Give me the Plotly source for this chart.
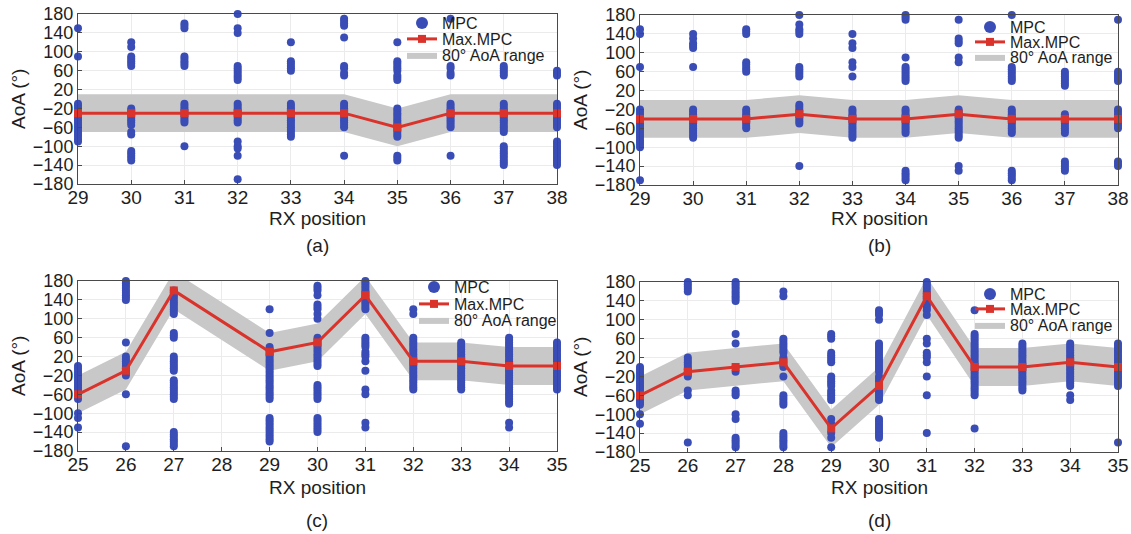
import plotly.graph_objects as go

# ---------------- data ----------------
A_TICKS = [29, 30, 31, 32, 33, 34, 35, 36, 37, 38]
A_POS = [29, 30, 31, 32, 33, 34, 35, 36, 37, 38]
A_MAX = [-30, -30, -30, -30, -30, -30, -60, -30, -30, -30]
A_MPC = [
    [150, 90, -10, -15, -20, -25, -30, -35, -40, -45, -50, -55, -60, -65, -70, -75, -80, -85, -90],
    [120, 110, 90, 85, 80, 75, 70, -20, -25, -30, -35, -40, -45, -50, -55, -70, -75, -110, -115, -120, -125, -130],
    [160, 155, 150, 90, 85, 80, 75, 70, -10, -15, -20, -25, -30, -35, -40, -45, -50, -100],
    [180, 150, 140, 70, 65, 60, 55, 50, 45, 40, -10, -15, -20, -25, -30, -35, -40, -45, -50, -90, -100, -105, -120, -170],
    [120, 80, 75, 70, 65, 60, -10, -15, -20, -25, -30, -35, -40, -45, -50, -55, -60, -65, -70, -75, -80],
    [170, 165, 160, 155, 130, 70, 65, 55, 50, -10, -15, -20, -25, -30, -35, -40, -45, -50, -55, -60, -120],
    [120, 80, 75, 70, 65, 60, 50, 45, 40, -20, -25, -30, -35, -40, -45, -50, -55, -60, -65, -70, -75, -80, -120, -125, -130],
    [170, 70, 65, 55, 50, -10, -15, -20, -25, -30, -35, -40, -45, -50, -55, -60, -120],
    [70, 65, 60, 55, 50, -10, -15, -20, -25, -30, -35, -40, -45, -50, -55, -60, -65, -70, -100, -105, -110, -115, -120, -125, -130, -135, -140],
    [60, 55, 50, -10, -15, -20, -25, -30, -35, -40, -45, -50, -55, -60, -90, -95, -100, -105, -110, -115, -120, -125, -130, -135, -140],
]

B_TICKS = [29, 30, 31, 32, 33, 34, 35, 36, 37, 38]
B_POS = [29, 30, 31, 32, 33, 34, 35, 36, 37, 38]
B_MAX = [-40, -40, -40, -30, -40, -40, -30, -40, -40, -40]
B_MPC = [
    [150, 140, 70, -20, -25, -30, -35, -40, -45, -50, -55, -60, -65, -70, -75, -80, -85, -90, -95, -100, -170],
    [140, 130, 120, 115, 110, 70, -20, -25, -30, -35, -40, -45, -50, -55, -60, -65, -70, -75, -80],
    [150, 145, 140, 80, 75, 70, 65, 60, -20, -25, -30, -35, -40, -45, -50, -55, -60],
    [180, 160, 150, 145, 140, 70, 65, 60, 55, 50, -10, -15, -20, -25, -30, -35, -40, -45, -50, -140],
    [140, 120, 110, 80, 70, 50, -20, -25, -30, -35, -40, -45, -50, -55, -60, -65, -70, -75, -80],
    [180, 175, 170, 90, 70, 65, 60, 55, 50, 45, 40, -20, -25, -30, -35, -40, -45, -50, -55, -60, -65, -70, -150, -155, -160, -165, -170],
    [170, 130, 125, 120, 90, 80, -20, -25, -30, -35, -40, -45, -50, -55, -60, -65, -70, -75, -80, -140, -150],
    [180, 70, 65, 60, 55, 50, 45, 40, -20, -25, -30, -35, -40, -45, -50, -55, -60, -65, -70, -150, -155, -160, -165, -170],
    [60, 55, 50, 45, 40, 35, 30, -30, -35, -40, -45, -50, -55, -60, -65, -70, -130, -135, -140, -145, -150],
    [170, 60, 55, 50, 45, 40, -20, -25, -30, -35, -40, -45, -50, -55, -60, -130, -135, -140],
]

C_TICKS = [25, 26, 27, 28, 29, 30, 31, 32, 33, 34, 35]
C_POS = [25, 26, 27, 29, 30, 31, 32, 33, 34, 35]
C_MAX = [-60, -10, 160, 30, 50, 150, 10, 10, 0, 0]
C_MPC = [
    [0, -5, -10, -15, -20, -25, -30, -35, -40, -45, -50, -55, -60, -65, -70, -100, -110, -130],
    [180, 175, 170, 165, 160, 155, 150, 145, 140, 50, 20, 15, 10, 5, 0, -5, -10, -15, -20, -60, -170],
    [160, 155, 150, 145, 140, 135, 130, 125, 120, 115, 110, 70, 65, 60, 20, 15, 10, 5, 0, -5, -10,
     -30, -35, -40, -45, -50, -55, -60, -65, -70, -140, -145, -150, -155, -160, -165, -170],
    [120, 70, 40, 35, 30, 25, 20, 15, 10, 5, 0, -5, -10, -15, -20, -25, -30, -35, -40, -45, -50, -55, -60, -65, -70,
     -110, -115, -120, -125, -130, -135, -140, -145, -150, -155, -160],
    [170, 165, 160, 150, 130, 125, 120, 110, 100, 60, 55, 50, 45, 40, 35, 30, 25, 20, 15, 10, 5, 0,
     -40, -45, -50, -55, -60, -65, -70, -110, -115, -120, -125, -130, -135, -140],
    [180, 175, 170, 165, 160, 155, 150, 145, 140, 135, 130, 125, 120, 60, 55, 50, 45, 40, 30, 25, 20, 10,
     -10, -50, -60, -120, -130],
    [120, 110, 60, 55, 50, 45, 40, 35, 30, 25, 20, 15, 10, 5, 0, -5, -10, -15, -20, -25, -30, -35, -40, -45, -50],
    [50, 45, 40, 35, 30, 25, 20, 15, 10, 5, 0, -5, -10, -15, -20, -25, -30, -35, -40, -45, -50],
    [60, 55, 50, 45, 40, 35, 30, 25, 20, 15, 10, 5, 0, -5, -10, -15, -20, -25, -30, -35, -40, -45, -50,
     -55, -60, -65, -70, -75, -80, -120, -130],
    [50, 45, 40, 35, 30, 25, 20, 15, 10, 5, 0, -5, -10, -15, -20, -25, -30, -35, -40, -45, -50],
]

D_TICKS = [25, 26, 27, 28, 29, 30, 31, 32, 33, 34, 35]
D_POS = [25, 26, 27, 28, 29, 30, 31, 32, 33, 34, 35]
D_MAX = [-60, -10, 0, 10, -130, -40, 150, 0, 0, 10, 0]
D_MPC = [
    [0, -5, -10, -15, -20, -25, -30, -35, -40, -45, -50, -55, -60, -65, -70, -75, -80, -100, -120],
    [180, 175, 170, 165, 160, 20, 15, 10, 5, 0, -5, -10, -15, -20, -50, -60, -160],
    [180, 175, 170, 165, 160, 155, 150, 145, 140, 70, 50, 0, -10, -50, -55, -60, -100, -110,
     -150, -155, -160, -165, -170],
    [160, 150, 60, 55, 50, 45, 40, 35, 30, 20, 15, 10, 5, 0, -20, -60, -65, -70, -75, -80,
     -140, -145, -150, -155, -160, -165, -170],
    [70, 65, 60, 30, 25, 20, 15, 10, -20, -25, -30, -35, -40, -50, -55, -60, -65, -70,
     -110, -120, -140, -150, -170],
    [120, 115, 110, 100, 50, 45, 40, 35, 30, 25, 20, 15, 10, 5, 0, -5, -10,
     -20, -25, -30, -35, -40, -45, -50, -55, -60, -65, -70, -110, -115, -120, -125, -130, -135, -140, -145, -150],
    [180, 175, 170, 165, 160, 155, 150, 145, 140, 135, 130, 125, 120, 110, 60, 50, 30, 25, 20, 10,
     -20, -60, -140],
    [120, 70, 65, 60, 55, 50, 45, 40, 35, 30, 25, 20, 15, 10, 5, 0, -5, -10, -15, -20, -25, -30,
     -35, -40, -45, -50, -55, -60, -130],
    [50, 45, 40, 35, 30, 25, 20, 15, 10, 5, 0, -5, -10, -15, -20, -25, -30, -35, -40, -45, -50],
    [50, 45, 40, 35, 30, 25, 20, 15, 10, 5, 0, -5, -10, -15, -20, -25, -30, -35, -40, -60, -70],
    [50, 45, 40, 35, 30, 25, 20, 15, 10, 5, 0, -5, -10, -15, -20, -25, -30, -35, -40, -160],
]

Y_TICKS = [-180, -140, -100, -60, -20, 20, 60, 100, 140, 180]
BAND_HALF = 40
NAMES = ["MPC", "Max.MPC", "80° AoA range"]
PANEL_LABELS = ["(a)", "(b)", "(c)", "(d)"]
X_TITLE = "RX position"
Y_TITLE = "AoA (°)"

# ---------------- style / layout ----------------
W, H = 1131, 534
FONT = "Liberation Sans, Arial, Helvetica, sans-serif"
TXT = "#1e1e1e"
BLUE = "#3a4db6"
RED = "#d9332b"
GRAY = "#c8c8c8"

panels = [
    dict(pos=A_POS, mx=A_MAX, mpc=A_MPC, ticks=A_TICKS, xpx=(78, 557), ypx=(14, 184),
         leg_left=402, leg_y=(23, 39, 55), ylab_x=18, label_y=245, xtitle_y=218),
    dict(pos=B_POS, mx=B_MAX, mpc=B_MPC, ticks=B_TICKS, xpx=(640, 1118), ypx=(15, 185),
         leg_left=970, leg_y=(27, 42, 57), ylab_x=580, label_y=245, xtitle_y=218),
    dict(pos=C_POS, mx=C_MAX, mpc=C_MPC, ticks=C_TICKS, xpx=(78, 557), ypx=(281, 451),
         leg_left=414, leg_y=(287, 304, 320), ylab_x=18, label_y=520, xtitle_y=487),
    dict(pos=D_POS, mx=D_MAX, mpc=D_MPC, ticks=D_TICKS, xpx=(640, 1118), ypx=(282, 452),
         leg_left=970, leg_y=(294, 309, 325), ylab_x=580, label_y=520, xtitle_y=487),
]

fig = go.Figure()
layout = dict(width=W, height=H, margin=dict(l=0, r=0, t=0, b=0, autoexpand=False),
              paper_bgcolor="white", plot_bgcolor="white", showlegend=True,
              font=dict(family=FONT, color=TXT), annotations=[])

for i, p in enumerate(panels):
    n = i + 1
    xa = "x" if n == 1 else f"x{n}"
    ya = "y" if n == 1 else f"y{n}"
    legs = []
    for j in range(3):
        k = i * 3 + j + 1
        legs.append("legend" if k == 1 else f"legend{k}")

    # band (+-40 deg around the strongest MPC)
    upper = [m + BAND_HALF for m in p["mx"]]
    lower = [m - BAND_HALF for m in p["mx"]]
    bx = list(p["pos"]) + list(reversed(p["pos"]))
    by = upper + list(reversed(lower))
    # MPC points
    px, py = [], []
    for xv, vals in zip(p["pos"], p["mpc"]):
        for v in vals:
            px.append(xv)
            py.append(v)

    fig.add_trace(go.Scatter(x=bx, y=by, mode="lines", fill="toself", name=NAMES[2], xaxis=xa, yaxis=ya,
                             fillcolor=GRAY, line=dict(width=0, color=GRAY), legend=legs[2],
                             showlegend=True))
    fig.add_trace(go.Scatter(x=px, y=py, mode="markers", name=NAMES[0], xaxis=xa, yaxis=ya,
                             marker=dict(color=BLUE, size=8, line=dict(width=0)),
                             cliponaxis=False, legend=legs[0], showlegend=True))
    fig.add_trace(go.Scatter(x=p["pos"], y=p["mx"], mode="lines+markers", name=NAMES[1], xaxis=xa, yaxis=ya,
                             line=dict(color=RED, width=3),
                             marker=dict(symbol="square", size=8, color=RED),
                             cliponaxis=False, legend=legs[1], showlegend=True))

    x0, x1 = p["xpx"]
    y0, y1 = p["ypx"]
    axis_common = dict(showline=True, linecolor="#4a4a4a", linewidth=1, mirror=True,
                       ticks="inside", ticklen=4, tickcolor="#4a4a4a",
                       showgrid=True, gridcolor="#ebebeb", gridwidth=1, zeroline=False,
                       automargin=False, ticklabeloverflow="allow")
    layout["xaxis" if n == 1 else f"xaxis{n}"] = dict(
        domain=[x0 / W, x1 / W], anchor=ya, range=[p["ticks"][0], p["ticks"][-1]],
        tickmode="array", tickvals=p["ticks"], ticktext=[str(t) for t in p["ticks"]],
        tickangle=0, ticklabelstandoff=-4,
        tickfont=dict(size=19, family=FONT, color=TXT), **axis_common)
    layout["yaxis" if n == 1 else f"yaxis{n}"] = dict(
        domain=[1 - y1 / H, 1 - y0 / H], anchor=xa, range=[-180, 180],
        tickmode="array", tickvals=Y_TICKS,
        tickfont=dict(size=18, family=FONT, color=TXT), **axis_common)

    # three single-item legends per panel, placed like the original legend rows
    for j in range(3):
        layout[legs[j]] = dict(x=p["leg_left"] / W, y=1 - p["leg_y"][j] / H, xref="paper", yref="paper",
                               xanchor="left", yanchor="middle", bgcolor="rgba(0,0,0,0)", borderwidth=0,
                               itemsizing="constant" if j == 0 else "trace", visible=True,
                               font=dict(size=16, family=FONT, color=TXT))

    cx = (x0 + x1) / 2 / W
    layout["annotations"].append(dict(text=X_TITLE, x=cx, y=1 - p["xtitle_y"] / H, xref="paper", yref="paper",
                                      showarrow=False, xanchor="center", yanchor="middle",
                                      font=dict(size=19, family=FONT, color=TXT)))
    layout["annotations"].append(dict(text=Y_TITLE, x=p["ylab_x"] / W, y=1 - (y0 + y1) / 2 / H,
                                      xref="paper", yref="paper", textangle=-90,
                                      showarrow=False, xanchor="center", yanchor="middle",
                                      font=dict(size=19, family=FONT, color=TXT)))
    layout["annotations"].append(dict(text=PANEL_LABELS[i], x=cx, y=1 - p["label_y"] / H,
                                      xref="paper", yref="paper",
                                      showarrow=False, xanchor="center", yanchor="middle",
                                      font=dict(size=19, family=FONT, color=TXT)))

fig.update_layout(**layout)
# remove the browser's default 8px page margin so the figure fills the window exactly
fig.write_html("out.html", config={"displayModeBar": False},
               post_script="document.body.style.margin='0px';")
